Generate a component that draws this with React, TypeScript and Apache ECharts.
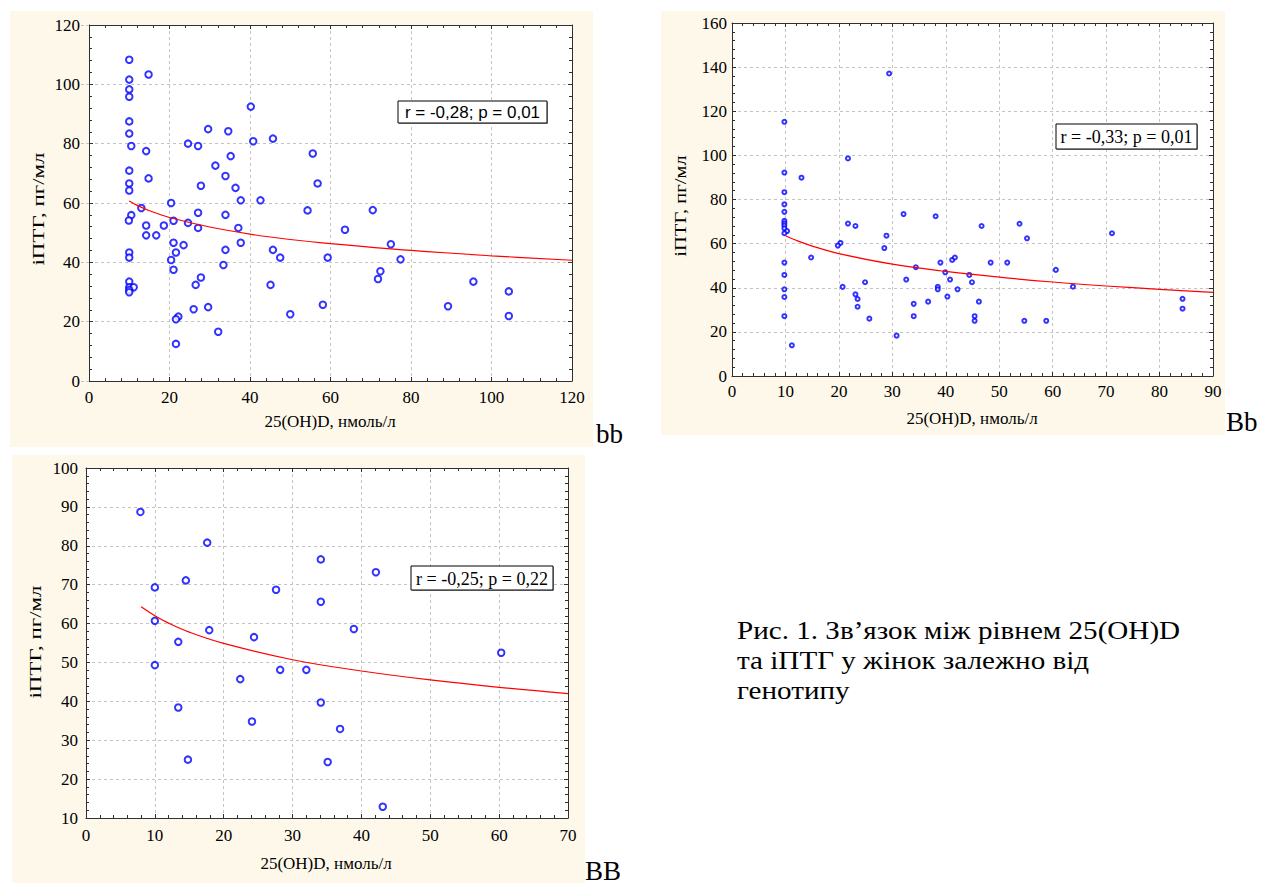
import React, { useEffect, useRef } from "react";
import * as echarts from "echarts";

type Pt = [number, number];

const SERIF = "'Liberation Serif', 'Times New Roman', serif";
const SANS = "'Liberation Sans', Arial, sans-serif";

// ---------- Panel "bb" ----------
const bbPoints: Pt[] = [
  [10, 108.3], [14.8, 103.3], [10, 101.6], [10, 98.3], [10, 95.8], [40.2, 92.5], [10, 87.5], [10, 83.4],
  [29.6, 84.9], [34.6, 84.2], [10.5, 79.2], [14.2, 77.5], [24.6, 80], [27.1, 79.2], [40.8, 80.8], [45.7, 81.7],
  [55.6, 76.7], [35.2, 75.8], [31.4, 72.6], [10, 70.9], [14.8, 68.3], [33.9, 69.1], [10, 66.6], [10, 64.2],
  [27.8, 65.8], [36.4, 65.1], [56.8, 66.6], [37.7, 60.9], [42.6, 60.9], [20.4, 60], [13, 58.3], [27.1, 56.7],
  [33.9, 56], [54.3, 57.5], [10.5, 55.9], [9.9, 54.1], [14.2, 52.4], [14.2, 49.1], [16.7, 49.1], [18.6, 52.4],
  [21, 54], [24.6, 53.3], [27.1, 51.6], [37.1, 51.6], [37.7, 46.6], [21, 46.6], [23.5, 45.8], [21.6, 43.3],
  [20.4, 40.8], [21, 37.5], [33.9, 44.2], [33.4, 39.1], [45.7, 44.2], [47.5, 41.6], [59.3, 41.6], [10, 43.3],
  [10, 41.6], [10, 33.5], [10, 31.6], [11.1, 31.6], [10, 30.7], [10, 29.9], [27.8, 34.9], [26.5, 32.4],
  [45.1, 32.4], [58.1, 25.7], [29.6, 24.9], [26, 24.2], [50, 22.5], [22.2, 21.7], [21.6, 20.8], [32.1, 16.6],
  [21.6, 12.5], [70.5, 57.6], [63.6, 51.0], [75, 46.1], [77.4, 41.0], [72.4, 37.0], [71.8, 34.4], [95.5, 33.5],
  [104.3, 30.2], [89.2, 25.2], [104.3, 21.9],
];
const bbFit: Pt[] = [
  [10, 60.7], [12, 59.2], [15, 57.4], [20, 55.1], [30, 51.9], [40, 49.5], [50, 47.7], [60, 46.3],
  [80, 44.0], [100, 42.2], [120, 40.7],
];
const bbStat = "r = -0,28; p = 0,01";

// ---------- Panel "Bb" ----------
const BbPoints: Pt[] = [
  [29.4, 137.1], [9.8, 115.2], [21.7, 98.6], [9.8, 92.2], [13, 89.9], [9.8, 83.3], [9.8, 77.8], [9.8, 74.4],
  [32.1, 73.4], [9.8, 70.3], [9.8, 69.2], [9.8, 68.2], [9.8, 66.9], [10.3, 65.7], [9.8, 64.7], [21.7, 69.1],
  [23.1, 68], [28.9, 63.6], [38.1, 72.4], [46.7, 68], [20.3, 60.3], [19.8, 59.1], [28.5, 58], [14.8, 53.7],
  [9.8, 51.4], [9.8, 45.8], [9.8, 39.3], [9.8, 35.8], [9.8, 27.1], [11.2, 13.9], [20.7, 40.4], [24.9, 42.5],
  [23.1, 37.0], [23.5, 34.9], [23.5, 31.4], [25.7, 26.0], [30.8, 18.3], [34.4, 49.3], [32.6, 43.7], [34, 32.7],
  [34, 27.1], [36.7, 33.7], [39, 51.4], [38.5, 40.4], [38.5, 39.3], [39.9, 47.0], [40.3, 36.0], [40.8, 43.7],
  [41.2, 52.6], [41.7, 53.7], [42.2, 39.3], [44.4, 45.8], [44.9, 42.5], [46.2, 33.7], [45.4, 27.1], [45.4, 25],
  [53.8, 69], [55.2, 62.4], [71.1, 64.7], [48.4, 51.4], [51.5, 51.4], [60.6, 48.1], [63.8, 40.5], [54.7, 25],
  [58.8, 25], [84.3, 35], [84.3, 30.5],
];
const BbFit: Pt[] = [
  [10, 63.6], [12, 61.5], [15, 58.9], [20, 55.5], [30, 50.7], [40, 47.4], [50, 44.8], [60, 42.6],
  [70, 40.8], [80, 39.3], [90, 37.9],
];
const BbStat = "r = -0,33; p = 0,01";

// ---------- Panel "BB" ----------
const BBPoints: Pt[] = [
  [7.9, 88.7], [17.6, 80.8], [34.1, 76.5], [14.5, 71.1], [10, 69.3], [27.6, 68.7], [34.1, 65.6], [10, 60.7],
  [17.9, 58.3], [13.4, 55.3], [24.4, 56.5], [10, 49.3], [22.4, 45.7], [28.2, 48.1], [32, 48.1], [13.4, 38.4],
  [34.1, 39.7], [24.1, 34.8], [14.8, 25.0], [35.1, 24.4], [36.9, 32.9], [42.1, 73.2], [38.9, 58.6], [60.3, 52.5],
  [43.1, 12.9],
];
const BBFit: Pt[] = [
  [8, 64.3], [10, 62.0], [12, 60.1], [15, 57.8], [20, 54.9], [30, 50.7], [40, 47.8], [50, 45.5],
  [60, 43.6], [70, 42.0],
];
const BBStat = "r = -0,25; p = 0,22";

const xTitle = "25(OH)D, нмоль/л";
const yTitle = "іПТГ, пг/мл";
const captionLines = ["Рис. 1. Зв’язок між рівнем 25(OH)D", "та іПТГ у жінок залежно від", "генотипу"];

const AXIS = "#303030";
const GRIDLINE = "#c4c4c4";
const CREAM = "#fdf8ea";

const panels = [
  {
    points: bbPoints, fit: bbFit, stat: bbStat, statFont: `17px ${SANS}`, letter: "bb",
    xMax: 120, xInt: 20, yMin: 0, yMax: 120, yInt: 20, sym: 6.5, bw: 1.2,
    grid: { left: 89, top: 25, width: 483, height: 356 }, mx: 8, my: 9, ext: true,
    bg: { x: 10, y: 11, width: 583, height: 436 },
    statBox: { x: 398, y: 101, width: 149, height: 22 },
    xTitlePos: [330, 421], yTitlePos: [38, 209], yScale: 1.35,
    letterPos: [596, 447],
  },
  {
    points: BbPoints, fit: BbFit, stat: BbStat, statFont: `18px ${SERIF}`, letter: "Bb",
    xMax: 90, xInt: 10, yMin: 0, yMax: 160, yInt: 20, sym: 4, bw: 1.1,
    grid: { left: 732, top: 23, width: 481, height: 353 }, mx: 7, my: 5, ext: false,
    bg: { x: 661, y: 11, width: 564, height: 424 },
    statBox: { x: 1056, y: 124, width: 141, height: 25 },
    xTitlePos: [972, 418], yTitlePos: [680, 206], yScale: 1.21,
    letterPos: [1226, 435],
  },
  {
    points: BBPoints, fit: BBFit, stat: BBStat, statFont: `18px ${SERIF}`, letter: "BB",
    xMax: 70, xInt: 10, yMin: 10, yMax: 100, yInt: 10, sym: 6.5, bw: 1.2,
    grid: { left: 86, top: 468, width: 482, height: 350 }, mx: 9, my: 8, ext: false,
    bg: { x: 12, y: 455, width: 573, height: 428 },
    statBox: { x: 411, y: 566, width: 142, height: 24 },
    xTitlePos: [326, 863], yTitlePos: [35, 642], yScale: 1.35,
    letterPos: [585, 884],
  },
];

function buildOption() {
  const grids: any[] = [];
  const xAxes: any[] = [];
  const yAxes: any[] = [];
  const series: any[] = [];
  const graphics: any[] = [];
  const ls = { color: AXIS, width: 1 };

  panels.forEach((p, i) => {
    grids.push({ ...p.grid, show: false, containLabel: false, outerBoundsMode: "none" });
    const xb = { type: "value", gridIndex: i, min: 0, max: p.xMax, interval: p.xInt };
    const yb = { type: "value", gridIndex: i, min: p.yMin, max: p.yMax, interval: p.yInt };
    const label = { color: "#000", fontFamily: SERIF, fontSize: 17 };
    const tick = { show: true, inside: true, length: 4, lineStyle: ls };
    const minor = { show: true, splitNumber: 5, length: 3, lineStyle: ls };
    // bottom x
    xAxes.push({
      ...xb, position: "bottom",
      axisLine: { show: true, onZero: false, lineStyle: ls },
      axisTick: tick, minorTick: minor,
      axisLabel: { ...label, margin: p.mx },
      splitLine: { show: true, lineStyle: { color: GRIDLINE, type: [3, 3], width: 1 } },
    });
    // top x
    xAxes.push({
      ...xb, position: "top",
      axisLine: { show: true, onZero: false, lineStyle: ls },
      axisTick: tick, minorTick: minor,
      axisLabel: { show: false }, splitLine: { show: false },
    });
    // left y
    yAxes.push({
      ...yb, position: "left", offset: 0,
      axisLine: { show: true, onZero: false, lineStyle: ls },
      axisTick: tick, minorTick: minor,
      axisLabel: { ...label, margin: p.my },
      splitLine: { show: true, lineStyle: { color: GRIDLINE, type: [3, 3], width: 1 } },
    });
    // right y
    yAxes.push({
      ...yb, position: "right", offset: 0,
      axisLine: { show: true, onZero: false, lineStyle: ls },
      axisTick: tick, minorTick: minor,
      axisLabel: { show: false }, splitLine: { show: false },
    });
    // left dashed tick extension
    yAxes.push({
      ...yb, position: "left", offset: 0,
      axisLine: { show: false },
      axisTick: { show: p.ext, inside: false, length: 8, lineStyle: { color: GRIDLINE, type: [3, 2], width: 1 } },
      axisLabel: { show: false }, splitLine: { show: false },
    });

    series.push({
      type: "scatter", xAxisIndex: 2 * i, yAxisIndex: 3 * i, data: p.points,
      symbol: "emptyCircle", symbolSize: p.sym, silent: true, z: 3,
      itemStyle: { color: "#0000ff", borderColor: "#0000ff", borderWidth: p.bw },
    });
    series.push({
      type: "line", xAxisIndex: 2 * i, yAxisIndex: 3 * i, data: p.fit,
      smooth: 0.4, showSymbol: false, symbol: "none", silent: true, z: 4,
      lineStyle: { color: "#ff0000", width: 1.2 },
    });

    graphics.push({ type: "rect", z: -20, shape: p.bg, style: { fill: CREAM } });
    graphics.push({
      type: "rect", z: -19,
      shape: { x: p.grid.left, y: p.grid.top, width: p.grid.width, height: p.grid.height },
      style: { fill: "#ffffff" },
    });
    // stat box
    graphics.push({
      type: "rect", z: 20,
      shape: { x: p.statBox.x + 1, y: p.statBox.y + 1, width: p.statBox.width, height: p.statBox.height },
      style: { fill: "#9a9a9a" },
    });
    graphics.push({
      type: "rect", z: 21, shape: p.statBox,
      style: { fill: "#ffffff", stroke: "#000", lineWidth: 1 },
    });
    graphics.push({
      type: "text", z: 22,
      x: p.statBox.x + p.statBox.width / 2, y: p.statBox.y + p.statBox.height / 2 + 0.5,
      style: { text: p.stat, font: p.statFont, fill: "#000", align: "center", verticalAlign: "middle" },
    });
    // axis titles
    graphics.push({
      type: "text", z: 5, x: p.xTitlePos[0], y: p.xTitlePos[1],
      style: { text: xTitle, font: `17px ${SERIF}`, fill: "#000", align: "center", verticalAlign: "middle" },
    });
    graphics.push({
      type: "text", z: 5, x: p.yTitlePos[0], y: p.yTitlePos[1], rotation: Math.PI / 2, scaleX: p.yScale,
      style: { text: yTitle, font: `17px ${SERIF}`, fill: "#000", align: "center", verticalAlign: "middle" },
    });
    // panel letter
    graphics.push({
      type: "text", z: 5, x: p.letterPos[0], y: p.letterPos[1],
      style: { text: p.letter, font: `27px ${SERIF}`, fill: "#000", align: "left", verticalAlign: "bottom" },
    });
  });

  graphics.push({
    type: "text", z: 5, x: 737, y: 615, scaleX: 1.12,
    style: {
      text: captionLines.join("\n"), font: `26px ${SERIF}`, fill: "#000",
      align: "left", verticalAlign: "top", lineHeight: 30,
    },
  });

  return {
    animation: false,
    backgroundColor: "#ffffff",
    grid: grids,
    xAxis: xAxes,
    yAxis: yAxes,
    series,
    graphic: { elements: graphics },
  };
}

export default function App() {
  const ref = useRef<HTMLDivElement>(null);
  useEffect(() => {
    if (!ref.current) return;
    const chart = echarts.init(ref.current, undefined, { renderer: "svg" });
    chart.setOption(buildOption() as any);
    return () => chart.dispose();
  }, []);
  return (
    <div
      ref={ref}
      style={{ position: "absolute", left: 0, top: 0, width: 1261, height: 885 }}
    />
  );
}
